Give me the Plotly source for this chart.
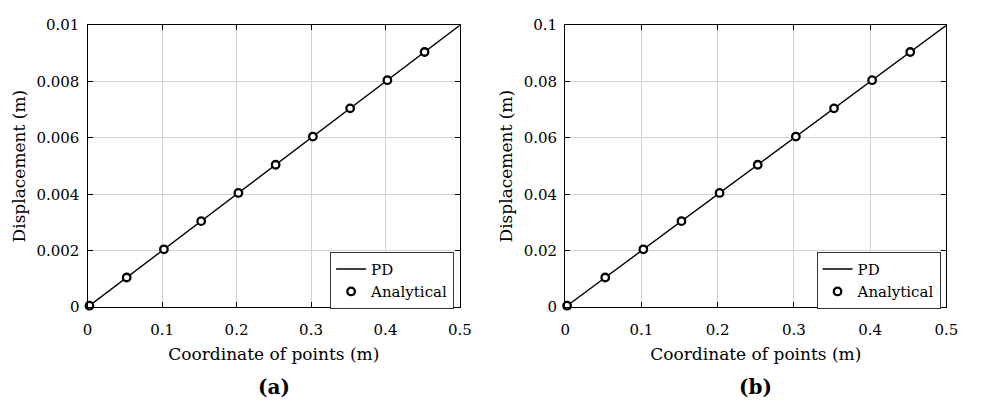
import plotly.graph_objects as go

# Peridynamic (PD) solution along the bar
pd_x = [0.0, 0.5]
pd_y_a = [0.0, 0.01]
pd_y_b = [0.0, 0.1]

# Analytical solution sampled at the material points
ana_x = [0.0025, 0.0525, 0.1025, 0.1525, 0.2025, 0.2525, 0.3025, 0.3525, 0.4025, 0.4525]
ana_y_a = [0.00005, 0.00105, 0.00205, 0.00305, 0.00405, 0.00505, 0.00605, 0.00705, 0.00805, 0.00905]
ana_y_b = [0.0005, 0.0105, 0.0205, 0.0305, 0.0405, 0.0505, 0.0605, 0.0705, 0.0805, 0.0905]

x_ticks = [0, 0.1, 0.2, 0.3, 0.4, 0.5]
x_ticktext = ["0", "0.1", "0.2", "0.3", "0.4", "0.5"]
y_ticks_a = [0, 0.002, 0.004, 0.006, 0.008, 0.01]
y_ticktext_a = ["0", "0.002", "0.004", "0.006", "0.008", "0.01"]
y_ticks_b = [0, 0.02, 0.04, 0.06, 0.08, 0.1]
y_ticktext_b = ["0", "0.02", "0.04", "0.06", "0.08", "0.1"]

FONT = "DejaVu Serif"
TICK_SIZE = 15
TITLE_SIZE = 17

fig = go.Figure()

for i, (pdy, ay, leg) in enumerate([(pd_y_a, ana_y_a, "legend"), (pd_y_b, ana_y_b, "legend2")]):
    xa = "x" if i == 0 else "x2"
    ya = "y" if i == 0 else "y2"
    fig.add_trace(go.Scatter(
        x=pd_x, y=pdy, mode="lines", name="PD",
        line=dict(color="black", width=1.4),
        xaxis=xa, yaxis=ya, legend=leg, cliponaxis=False,
    ))
    fig.add_trace(go.Scatter(
        x=ana_x, y=ay, mode="markers", name="Analytical",
        marker=dict(symbol="circle", size=7.5, color="white",
                    line=dict(color="black", width=2.3)),
        xaxis=xa, yaxis=ya, legend=leg, cliponaxis=False,
    ))

axis_common = dict(
    showline=True, linecolor="black", linewidth=1.3, mirror="ticks",
    ticks="inside", ticklen=5, tickcolor="black", tickwidth=1,
    showgrid=True, gridcolor="#d3d3d3", gridwidth=1,
    zeroline=False,
    tickfont=dict(family=FONT, size=TICK_SIZE, color="black"),
)

xtitle = dict(text="Coordinate of points (m)", standoff=9,
              font=dict(family=FONT, size=TITLE_SIZE))
ytitle = dict(text="Displacement (m)", standoff=6,
              font=dict(family=FONT, size=TITLE_SIZE))

legend_common = dict(
    y=0.3713, xanchor="right", yanchor="top",
    bgcolor="white", bordercolor="#333333", borderwidth=1,
    font=dict(family=FONT, size=TICK_SIZE), tracegroupgap=0, itemwidth=30,
)

fig.update_layout(
    width=984, height=404,
    margin=dict(l=0, r=0, t=0, b=0),
    paper_bgcolor="white", plot_bgcolor="white",
    font=dict(family=FONT, size=TICK_SIZE, color="black"),
    xaxis=dict(domain=[0.0854, 0.4705], range=[0, 0.5], tickvals=x_ticks, ticktext=x_ticktext,
               title=xtitle, anchor="y", ticklabelstandoff=9, **axis_common),
    yaxis=dict(domain=[0.2277, 0.958], range=[0, 0.01], tickvals=y_ticks_a, ticktext=y_ticktext_a,
               title=ytitle, anchor="x", ticklabelstandoff=4, **axis_common),
    xaxis2=dict(domain=[0.5793, 0.9736], range=[0, 0.5], tickvals=x_ticks, ticktext=x_ticktext,
                title=xtitle, anchor="y2", ticklabelstandoff=9, **axis_common),
    yaxis2=dict(domain=[0.2277, 0.958], range=[0, 0.1], tickvals=y_ticks_b, ticktext=y_ticktext_b,
                title=ytitle, anchor="x2", ticklabelstandoff=4, **axis_common),
    legend=dict(x=457 / 984, **legend_common),
    legend2=dict(x=952 / 984, **legend_common),
    showlegend=True,
    annotations=[
        dict(text="<b>(a)</b>", x=274 / 984, y=1 - 396 / 404, xref="paper", yref="paper",
             xanchor="center", yanchor="middle", showarrow=False,
             font=dict(family=FONT, size=20)),
        dict(text="<b>(b)</b>", x=764 / 984, y=1 - 396 / 404, xref="paper", yref="paper",
             xanchor="center", yanchor="middle", showarrow=False,
             font=dict(family=FONT, size=20)),
    ],
)

fig.write_html("out.html")
